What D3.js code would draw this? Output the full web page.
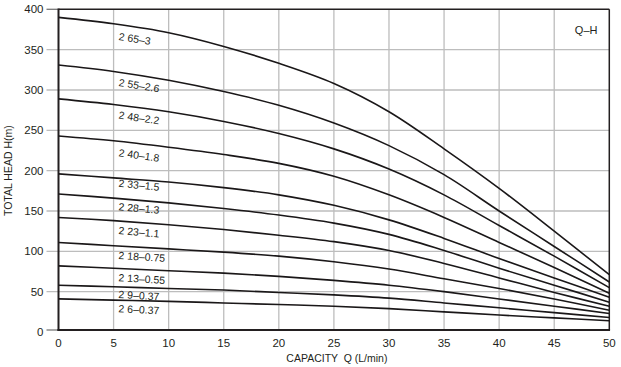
<!DOCTYPE html>
<html><head><meta charset="utf-8">
<script src="https://cdn.jsdelivr.net/npm/d3@7"></script>
<style>body{margin:0;background:#fff}svg{display:block}</style>
</head><body>
<svg id="c" width="621" height="367"></svg>
<script>
const capacity = [0,5,10,15,20,25,30,35,40,45,50];
const xTicks = [0,5,10,15,20,25,30,35,40,45,50];
const yTicks = [0,50,100,150,200,250,300,350,400];
const models = ["2 65–3","2 55–2.6","2 48–2.2","2 40–1.8","2 33–1.5","2 28–1.3","2 23–1.1","2 18–0.75","2 13–0.55","2 9–0.37","2 6–0.37"];
const h265 = [390,382,371,354,333,308,273,227,178,125,71];
const h255 = [331,323,312,298,281,259,231,195,150,106,62];
const h248 = [289,282,273,261,246,227,202,170,132,94,55];
const h240 = [243,237,229,220,209,193,170,142,111,80,48];
const h233 = [196,191,186,179,170,157,139,116,91,67,43];
const h228 = [171,166,160,153,145,135,121,101,79,58,37];
const h223 = [142,138,133,127,120,112,101,85,67,49,32];
const h218 = [111,107,103,99,94,87,78,66,54,41,27];
const h213 = [82,79,76,73,69,64,58,50,41,32,23];
const h29  = [58,56,54,52,49,46,42,36,30,24,18];
const h26  = [41,39.5,38,36,34,32,29,25,21,17.5,14];
const heads = [h265,h255,h248,h240,h233,h228,h223,h218,h213,h29,h26];
// label anchor (Q, H) and tilt in degrees
const labelQ = [5.43,5.43,5.43,5.43,5.43,5.43,5.43,5.43,5.43,5.43,5.43];
const labelH = [362,305,264.5,218,180,151,121.5,90.5,63,42,24.5];
const labelTilt = [9,9,8,8,5.5,5,5,3.5,3.5,3,3];

const svg = d3.select("#c");
const x = d3.scaleLinear().domain([0,50]).range([58.5,609.3]);
const y = d3.scaleLinear().domain([0,400]).range([332,9.3]);
const font = "'Liberation Sans', Arial, sans-serif";
const ink = "#231f20";

// grid
svg.append("g").selectAll("line").data(xTicks.slice(1,-1)).join("line")
  .attr("x1",d=>x(d)).attr("x2",d=>x(d)).attr("y1",y(400)).attr("y2",y(0)-2)
  .attr("stroke","#bdbdbd").attr("stroke-width",1.3);
svg.append("g").selectAll("line").data(yTicks.slice(1,-1)).join("line")
  .attr("x1",x(0)-12).attr("x2",x(50)).attr("y1",d=>y(d)).attr("y2",d=>y(d))
  .attr("stroke","#bdbdbd").attr("stroke-width",1.3);
svg.append("g").selectAll("line").data([0,400]).join("line")
  .attr("x1",x(0)-12).attr("x2",x(0)).attr("y1",d=>d===0?y(0)-2:y(d)).attr("y2",d=>d===0?y(0)-2:y(d))
  .attr("stroke","#777").attr("stroke-width",1.3);

// frame
const fr = svg.append("g").attr("stroke",ink).attr("fill","none");
fr.append("line").attr("x1",x(0)).attr("x2",x(50)).attr("y1",y(400)).attr("y2",y(400)).attr("stroke-width",1.5);
fr.append("line").attr("x1",x(50)).attr("x2",x(50)).attr("y1",y(400)).attr("y2",y(0)-2).attr("stroke-width",1.5);
fr.append("line").attr("x1",x(0)-1).attr("x2",x(50)+0.75).attr("y1",y(0)-2).attr("y2",y(0)-2).attr("stroke-width",2);
fr.append("line").attr("x1",x(0)).attr("x2",x(0)).attr("y1",y(400)-0.75).attr("y2",y(0)-1).attr("stroke-width",2);

// tick labels
svg.append("g").selectAll("text").data(yTicks).join("text")
  .attr("x",43.5).attr("y",d=>y(d)+4).attr("text-anchor","end")
  .attr("font-family",font).attr("font-size",11.5).attr("fill",ink).text(d=>d);
svg.append("g").selectAll("text").data(xTicks).join("text")
  .attr("x",d=>x(d)).attr("y",346.5).attr("text-anchor","middle")
  .attr("font-family",font).attr("font-size",11.5).attr("fill",ink).text(d=>d);

// axis titles
svg.append("text").attr("x",(x(0)+x(50))/2+3).attr("y",361.5).attr("text-anchor","middle")
  .attr("font-family",font).attr("font-size",10.5).attr("fill",ink)
  .attr("xml:space","preserve").text("CAPACITY  Q (L/min)");
svg.append("text").attr("transform",`translate(12,${(y(0)+y(400))/2}) rotate(-90)`)
  .attr("text-anchor","middle").attr("font-family",font).attr("font-size",10.5).attr("fill",ink)
  .text("TOTAL HEAD H(m)");
svg.append("text").attr("x",x(47.9)).attr("y",y(370)).attr("text-anchor","middle")
  .attr("font-family",font).attr("font-size",11).attr("fill",ink).text("Q–H");

// curves
const line = d3.line().x((d,i)=>x(capacity[i])).y(d=>y(d)).curve(d3.curveCatmullRom.alpha(0.5));
svg.append("g").selectAll("path").data(heads).join("path")
  .attr("d",line).attr("fill","none").attr("stroke","#1a1718").attr("stroke-width",1.6);

// labels
svg.append("g").selectAll("text").data(models).join("text")
  .attr("transform",(d,i)=>`translate(${x(labelQ[i])},${y(labelH[i])}) rotate(${labelTilt[i]})`)
  .attr("font-family",font).attr("font-size",10.5).attr("fill",ink).text(d=>d);
</script>
</body></html>
